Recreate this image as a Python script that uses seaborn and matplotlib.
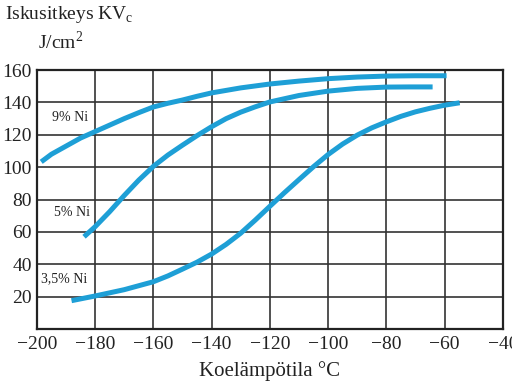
import pandas as pd
import seaborn as sns
import matplotlib.pyplot as plt

# impact toughness curves
temp_9ni = [-198.5, -195, -190, -185, -180, -175, -170, -165, -160, -155, -150, -145,
            -140, -130, -120, -110, -100, -90, -80, -70, -59.3]
kv_9ni = [103.3, 108, 113, 118, 122, 126, 130, 133.7, 137.2, 139.5, 141.5, 143.8,
          145.9, 149, 151.4, 153.2, 154.7, 155.7, 156.3, 156.5, 156.5]

temp_5ni = [-183.8, -180, -175, -170, -165, -160, -155, -150, -145, -140, -135, -130,
            -125, -120, -110, -100, -90, -80, -72, -64.1]
kv_5ni = [57, 63.2, 72.5, 82.5, 92, 100.5, 107.5, 113.6, 119.5, 125, 130, 134,
          137.3, 140.3, 144.3, 147, 148.7, 149.5, 149.6, 149.6]

temp_35ni = [-188.1, -180, -170, -160, -155, -150, -145, -140, -135, -130, -125, -120,
             -115, -110, -105, -100, -95, -90, -85, -80, -75, -70, -65, -60, -54.8]
kv_35ni = [17.5, 20.4, 24.3, 29.2, 32.8, 37, 41.3, 46.3, 52.3, 59.2, 67.3, 75.8,
           84.2, 92.3, 100.3, 107.8, 114.3, 119.8, 124.3, 128, 131.4, 134.2, 136.4, 138.3, 139.8]

series = {"9% Ni": (temp_9ni, kv_9ni), "5% Ni": (temp_5ni, kv_5ni), "3,5% Ni": (temp_35ni, kv_35ni)}
df = pd.concat(
    [pd.DataFrame({"T": t, "KV": v, "alloy": name}) for name, (t, v) in series.items()]
)

sns.set_style("white")
plt.rcParams["font.family"] = ["Liberation Serif", "DejaVu Serif"]

fig = plt.figure(figsize=(5.12, 3.83), dpi=100)
ax = fig.add_axes([0.072, 0.141, 0.910, 0.676])

sns.lineplot(
    data=df, x="T", y="KV", units="alloy", estimator=None, sort=False,
    color="#1e9fd6", linewidth=3.6, solid_capstyle="butt", solid_joinstyle="round",
    ax=ax, zorder=3,
)

ax.set_xlim(-200, -40)
ax.set_ylim(0, 160)
ax.set_xticks(range(-200, -39, 20))
ax.set_yticks(range(20, 161, 20))
ax.grid(True, color="#333333", linewidth=1.2)
for s in ax.spines.values():
    s.set_color("#222222")
    s.set_linewidth(1.6)
ax.tick_params(axis="both", length=0, labelsize=14, colors="#222222")
ax.tick_params(axis="x", pad=5)
ax.set_xlabel("Koelämpötila °C", fontsize=15, color="#222222", labelpad=6)
ax.set_ylabel("")

# curve labels
ax.text(-188.5, 131, "9% Ni", fontsize=10, ha="center", va="center", color="#222222")
ax.text(-188, 72, "5% Ni", fontsize=10, ha="center", va="center", color="#222222")
ax.text(-190.5, 31, "3,5% Ni", fontsize=10, ha="center", va="center", color="#222222")

fig.text(0.01, 0.963, "Iskusitkeys KV$_\\mathregular{c}$", fontsize=14, ha="left", va="center", color="#222222")
fig.text(0.074, 0.89, "J/cm$^\\mathregular{2}$", fontsize=14, ha="left", va="center", color="#222222")

fig.savefig("out.png", dpi=100)
